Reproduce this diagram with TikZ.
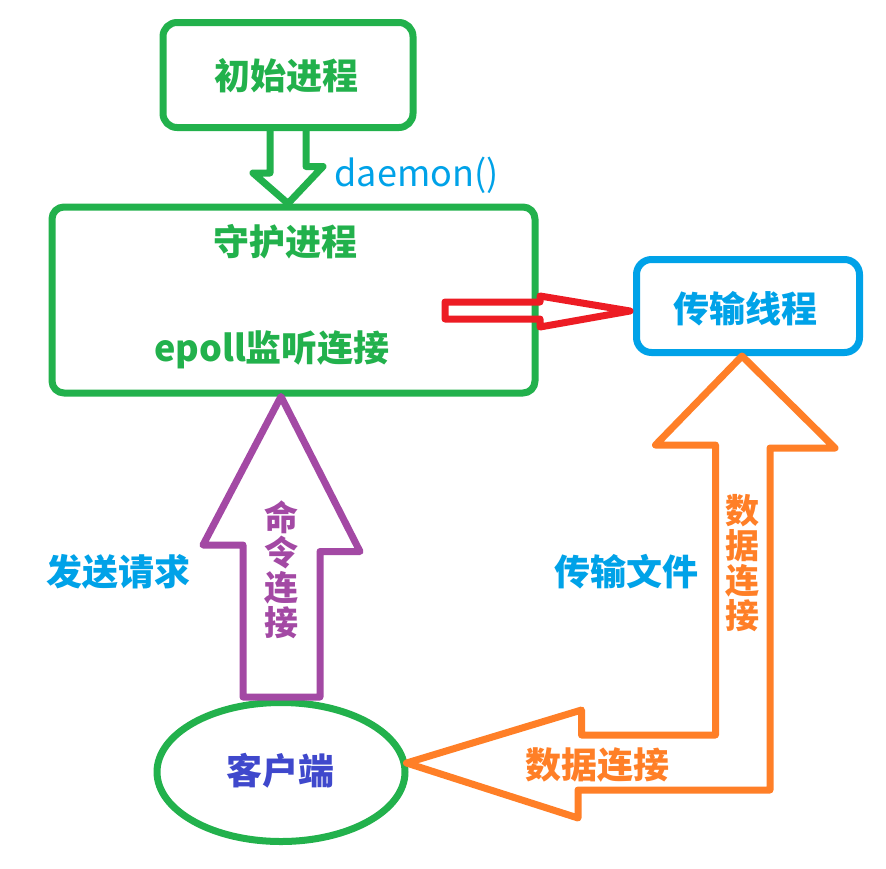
\documentclass[tikz,border=0pt]{standalone}
\usepackage{fontspec}
\setmainfont{Noto Sans CJK SC}
\usetikzlibrary{shapes.geometric,calc}

\definecolor{pgreen}{HTML}{22B14C}
\definecolor{pblue}{HTML}{00A2E8}
\definecolor{pred}{HTML}{ED1C24}
\definecolor{porange}{HTML}{FF7F27}
\definecolor{ppurple}{HTML}{A349A4}
\definecolor{pindigo}{HTML}{3F48CC}

\begin{document}
\begin{tikzpicture}[x=1pt,y=-1pt,line width=7pt,line join=round,
  box/.style={draw=pgreen,rounded corners=14pt},
  lbl/.style={font=\fontsize{36}{38}\selectfont\bfseries,inner sep=0pt},
  vlbl/.style={font=\fontsize{34}{35}\selectfont\bfseries,inner sep=0pt,align=center}]

  \fill[white] (0,0) rectangle (886,868);
  \useasboundingbox (0,0) rectangle (886,868);

  % process boxes
  \node[box,minimum width=250pt,minimum height=105pt] (init) at (288,75) {};
  \node[box,rounded corners=12pt,minimum width=483pt,minimum height=186pt] (daemon) at (293.5,300) {};
  \node[box,draw=pblue,rounded corners=15pt,minimum width=223pt,minimum height=93pt] (thread) at (748,306) {};
  \node[draw=pgreen,ellipse,minimum width=248pt,minimum height=139pt] (client) at (281,772) {};

  \node[lbl,text=pgreen] (initTitle) at (286,76) {初始进程};
  \node[lbl,text=pgreen] (daemonTitle) at (285,242) {守护进程};
  \node[lbl,text=pgreen] (daemonEpoll) at (272,350) {epoll监听连接};
  \node[lbl,text=pblue] (threadTitle) at (745,309) {传输线程};
  \node[lbl,text=pindigo] (clientTitle) at (280,771) {客户端};

  % hollow arrows
  \draw[pgreen] ($(init.south)+(-18,0)$) -- ++(0,42) -- ++(-17,0)
    -- (init.south |- daemon.north) -- ++(35,-37) -- ++(-17,0)
    -- ($(init.south)+(18,0)$);
  \draw[pred] ($(thread.west)+(-3,5)$) -- ++(-90,-15) -- ++(0,6)
    -- ++(-95,0) -- ++(0,17) -- ++(95,0) -- ++(0,8) -- cycle;
  \draw[ppurple] (client.north |- daemon.south) -- ++(79,155) -- ++(-40,0)
    -- ($(client.north)+(39,-2)$) -- ($(client.north)+(-38,-2)$)
    -- ++(0,-152) -- ++(-40,0) -- cycle;
  \draw[porange] ($(thread.south)+(-6,0)$) -- ++(93,92) -- ++(-65,0)
    -- ++(0,342) -- ++(-192,0) -- ++(0,28) -- ($(client.east)+(-2,-9)$)
    -- ++(175,-53) -- ++(0,25) -- ++(134,0) -- ++(0,-290) -- ++(-60,0) -- cycle;

  % arrow labels
  \node[font=\fontsize{36}{38}\selectfont,text=pblue,anchor=west,inner sep=0pt] (daemonCall) at (331,175) {daemon()};
  \node[lbl,text=pblue] (sendReq) at (118,572) {发送请求};
  \node[lbl,text=pblue] (sendFile) at (626,572) {传输文件};
  \node[vlbl,text=ppurple] (cmdConn) at (281,570) {命\\令\\连\\接};
  \node[vlbl,text=porange] (dataConnV) at (742,563) {数\\据\\连\\接};
  \node[lbl,text=porange] (dataConnH) at (597,765) {数据连接};
\end{tikzpicture}
\end{document}
